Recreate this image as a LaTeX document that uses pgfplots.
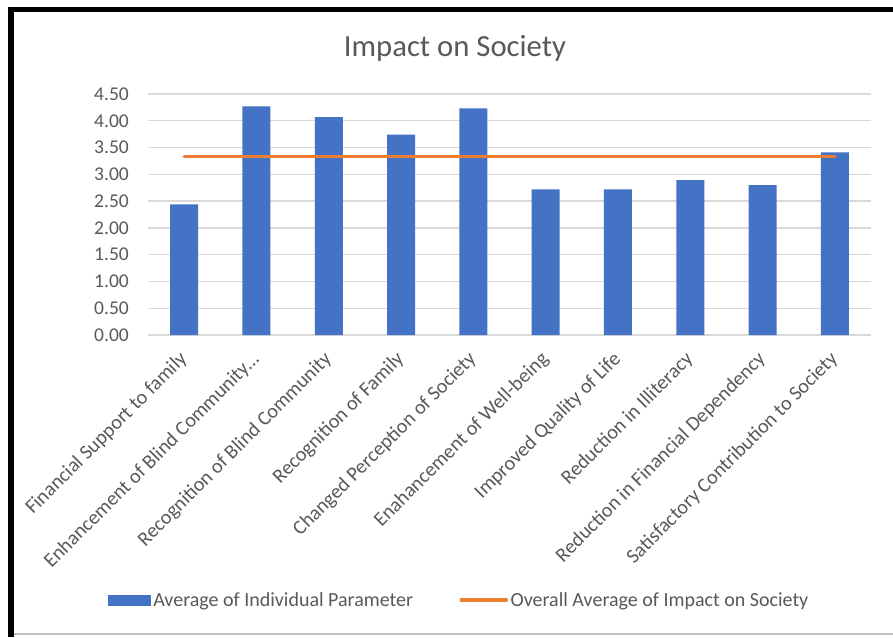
\documentclass[border=0pt]{standalone}
\usepackage{fontspec}
\setmainfont{Carlito}
\usepackage{pgfplots}
\pgfplotsset{compat=1.18}
\definecolor{barblue}{HTML}{4472C4}
\definecolor{lineorange}{HTML}{ED7D31}
\definecolor{txtgray}{HTML}{595959}
\definecolor{gridgray}{HTML}{D9D9D9}
\begin{document}
\begin{tikzpicture}[x=1pt,y=1pt]
\useasboundingbox (0,0) rectangle (893,637);
\fill[white] (0,0) rectangle (893,637);
\draw[black, line width=5pt] (8,627.5) -- (893,627.5);
\draw[black, line width=6pt] (11,630) -- (11,0);
\draw[gray!50, line width=1.5pt] (14,3) -- (893,3);
\node[font=\fontsize{30.7}{36}\selectfont, text=txtgray] at (455,589) {Impact on Society};
\begin{axis}[
  at={(148pt,302pt)}, anchor=south west, scale only axis,
  width=723pt, height=241pt,
  xmin=-0.5, xmax=9.5, ymin=0, ymax=4.5,
  axis line style={draw=none},
  major tick length=0pt,
  ymajorgrids, grid style={gridgray, line width=1.3pt},
  ytick={0,0.5,1,1.5,2,2.5,3,3.5,4,4.5},
  yticklabel style={font=\fontsize{19.5}{23}\selectfont, text=txtgray, inner sep=0pt, anchor=east, xshift=-19pt,
    /pgf/number format/.cd, fixed, fixed zerofill, precision=2, assume math mode=true},
  xtick={0,1,2,3,4,5,6,7,8,9},
  xticklabels={Financial Support to family, Enhancement of Blind Community…, Recognition of Blind Community, Recognition of Family, Changed Perception of Society, Enahancement of Well-being, Improved Quality of Life, Reduction in Illiteracy, Reduction in Financial Dependency, Satisfactory Contribution to Society},
  xticklabel style={font=\fontsize{20.2}{24}\selectfont, text=txtgray, rotate=45, anchor=east, inner sep=0pt, xshift=-15pt, yshift=-15pt},
  legend columns=2,
  legend cell align=left,
  legend style={at={(0.4305,-1.0996)}, anchor=center, draw=none, fill=none,
    font=\fontsize{20}{24}\selectfont, text=txtgray,
    nodes={inner sep=2.5pt},
    /tikz/every even column/.append style={column sep=44pt}},
]
\addplot[ybar, bar width=28pt, fill=barblue, draw=none,
  legend image code/.code={\fill[barblue] (0pt,-5.5pt) rectangle (43pt,5.5pt);}]
  coordinates {(0,2.44) (1,4.27) (2,4.07) (3,3.74) (4,4.23) (5,2.72) (6,2.72) (7,2.89) (8,2.80) (9,3.41)};
\addlegendentry{Average of Individual Parameter}
\addplot[sharp plot, lineorange, line width=3.5pt, line cap=round, mark=none,
  legend image code/.code={\draw[lineorange, line width=3.5pt] (0pt,0pt) -- (45pt,0pt);}]
  coordinates {(0,3.33) (9,3.33)};
\addlegendentry{Overall Average of Impact on Society}
\end{axis}
\end{tikzpicture}
\end{document}
